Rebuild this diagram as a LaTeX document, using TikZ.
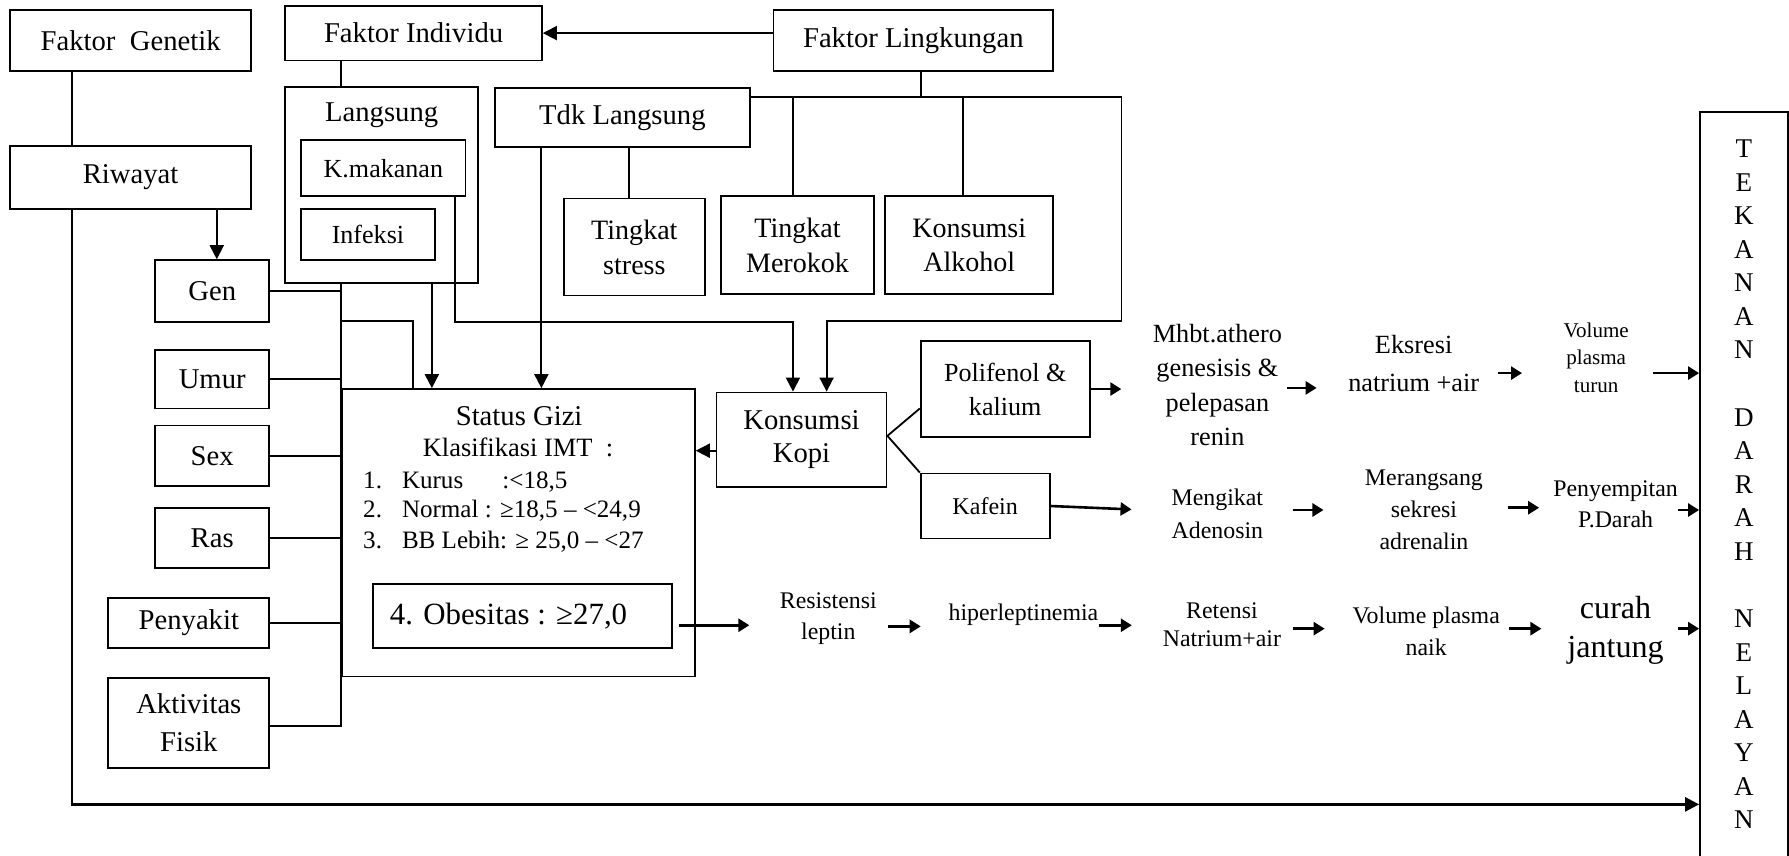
\documentclass[tikz,border=0pt]{standalone}
\usepackage{fontspec}
\setmainfont{Liberation Serif}
\usetikzlibrary{arrows.meta,calc}
\newcommand\fsz[2]{\fontsize{#1pt}{#2pt}\selectfont}
\tikzset{
 box/.style={draw, line width=0.9pt, inner sep=0pt, align=center},
 w/.style={minimum width=#1*0.02cm},
 h/.style={minimum height=#1*0.02cm},
 txt/.style={inner sep=0pt, align=center},
 ln/.style={line width=0.9pt},
 arr/.style={line width=0.9pt, -{Triangle[length=7pt,width=7pt]}},
 chain/.style={line width=1.3pt, -{Triangle[length=5.5pt,width=6.5pt]}},
}
\begin{document}
\begin{tikzpicture}[x=0.02cm,y=-0.02cm]
\useasboundingbox (0,0) rectangle (1568,750);
% top boxes
\node[box,w=211,h=53,font=\fsz{14.3}{17.4}] (fg) at (114.5,35.5) {Faktor~ Genetik};
\node[box,w=225,h=48,font=\fsz{14.3}{17.4}] (fi) at (362.5,29) {Faktor Individu};
\node[box,w=245,h=53,font=\fsz{14.3}{17.4}] (fl) at (800.5,35.5) {Faktor Lingkungan};
\node[box,w=211,h=55,font=\fsz{14.3}{17.4}] (riw) at (114.5,155.5) {Riwayat};
\node[box,w=169,h=172] (lang) at (334.5,162) {};
\node[txt,font=\fsz{14.3}{17.4}] (langt) at (334.5,101) {Langsung};
\node[box,w=144,h=49,font=\fsz{13}{16}] (kmak) at (336,147.5) {K.makanan};
\node[box,w=117,h=45,font=\fsz{13}{16}] (inf) at (322.5,205.5) {Infeksi};
\node[box,w=223,h=52,font=\fsz{14.3}{17.4}] (tdk) at (545.5,103) {Tdk Langsung};
\node[box,w=124,h=85,font=\fsz{14}{17.4}] (stress) at (556,216.5) {Tingkat\\stress};
\node[box,w=134,h=86,font=\fsz{14}{17.4}] (merokok) at (699,215) {Tingkat\\Merokok};
\node[box,w=147,h=86,font=\fsz{14}{17.4}] (alkohol) at (849.5,215) {Konsumsi\\Alkohol};
% left column
\node[box,w=100,h=54,font=\fsz{14.3}{17.4}] (gen) at (186,255) {Gen};
\node[box,w=100,h=51,font=\fsz{14.3}{17.4}] (umur) at (186,332.5) {Umur};
\node[box,w=100,h=53,font=\fsz{14.3}{17.4}] (sex) at (186,399.5) {Sex};
\node[box,w=100,h=53,font=\fsz{14.3}{17.4}] (ras) at (186,471.5) {Ras};
\node[box,w=141,h=44,font=\fsz{14.3}{17.4}] (peny) at (165.5,546) {Penyakit};
\node[box,w=141,h=79,font=\fsz{14.3}{19}] (akt) at (165.5,633.5) {Aktivitas\\Fisik};
% status gizi
\node[box,w=309,h=252] (sg) at (454.5,467) {};
\node[txt,font=\fsz{14.3}{17.4},anchor=base] (sgt) at (455,372.5) {Status Gizi};
\node[txt,font=\fsz{13.2}{16},anchor=base] (sgk) at (454,400) {Klasifikasi IMT~ :};
\node[txt,font=\fsz{12.5}{15},anchor=base west] (n1) at (318,428) {1.};
\node[txt,font=\fsz{12.5}{15},anchor=base west] (l1) at (352,428) {Kurus};
\node[txt,font=\fsz{12.5}{15},anchor=base west] (v1) at (440,428) {:<18,5};
\node[txt,font=\fsz{12.5}{15},anchor=base west] (n2) at (318,453.7) {2.};
\node[txt,font=\fsz{12.5}{15},anchor=base west] (l2) at (352,453.7) {Normal : ≥18,5 – <24,9};
\node[txt,font=\fsz{12.5}{15},anchor=base west] (n3) at (318,480.6) {3.};
\node[txt,font=\fsz{12.5}{15},anchor=base west] (l3) at (352,480.6) {BB Lebih: ≥ 25,0 – <27};
\node[box,w=262,h=56,font=\fsz{15.4}{18}] (obes) at (458,540) {4. Obesitas : ≥27,0\hspace*{14pt}};
% coffee
\node[box,w=149,h=83,font=\fsz{14.3}{16.5}] (kopi) at (702.5,385.5) {Konsumsi\\Kopi};
\node[box,w=148,h=84,font=\fsz{13}{17}] (poli) at (881,341) {Polifenol \&\\kalium};
\node[box,w=113,h=57,font=\fsz{12}{15}] (kaf) at (863.5,443.5) {Kafein};
% target
\node[box,w=77,h=653,font=\fsz{13.5}{16.75}] (tek) at (1528.5,424.5)
 {T\\E\\K\\A\\N\\A\\N\\[16.75pt]D\\A\\R\\A\\H\\[16.75pt]N\\E\\L\\A\\Y\\A\\N};
% right texts
\node[txt,font=\fsz{13.1}{17.2}] (mhbt) at (1067,337.5) {Mhbt.athero\\genesisis \&\\pelepasan\\renin};
\node[txt,font=\fsz{13.1}{18.7}] (eks) at (1239,318.5) {Eksresi\\natrium +air};
\node[txt,font=\fsz{10.5}{13.9}] (vpt) at (1399,313.5) {Volume\\plasma\\turun};
\node[txt,font=\fsz{11.9}{16.4}] (meng) at (1067,450.5) {Mengikat\\Adenosin};
\node[txt,font=\fsz{11.9}{15.9}] (mer) at (1248,447) {Merangsang\\sekresi\\adrenalin};
\node[txt,font=\fsz{11.9}{15.9}] (peny2) at (1416,442) {Penyempitan\\P.Darah};
\node[txt,font=\fsz{11.9}{15.3}] (res) at (726,542.5) {Resistensi\\leptin};
\node[txt,font=\fsz{11.9}{15.3}] (hip) at (897,539) {hiperleptinemia};
\node[txt,font=\fsz{11.9}{14.2}] (ret) at (1071,547.5) {Retensi\\Natrium+air};
\node[txt,font=\fsz{11.9}{16}] (vpn) at (1250,553) {Volume plasma\\naik};
\node[txt,font=\fsz{16}{19.8}] (cur) at (1416,552.5) {curah\\jantung};
% connectors left
\coordinate (cx) at (63,705);
\draw[ln] (fg.south -| cx) -- (riw.north -| cx);
\draw[arr,line width=1.3pt] (riw.south -| cx) -- (cx) -- (cx -| tek.west);
\coordinate (rg) at ($(gen.north)+(4,0)$);
\draw[arr] (riw.south -| rg) -- (rg);
\draw[arr] (fl.west |- fi.east) -- (fi.east);
\draw[ln] (fi.south -| sg.west) -- (lang.north -| sg.west);
\coordinate (ak) at ($(akt.east)+(0,2.5)$);
\draw[ln] (lang.south -| sg.west) -- (ak -| sg.west) -- (ak);
\foreach \n in {gen,umur,sex,ras,peny} \draw[ln] (\n.east) -- (\n.east -| sg.west);
\coordinate (sj) at (362,281);
\draw[ln] (sj -| sg.west) -- (sj) -- (sj |- sg.north);
\coordinate (la) at ($(lang.south)+(44,0)$);
\draw[arr] (la) -- (la |- sg.north);
\coordinate (ta) at ($(tdk.south)+(-71,0)$);
\draw[arr] (ta) -- (ta |- sg.north);
\coordinate (ts) at ($(stress.north)+(-5,0)$);
\draw[ln] (ts |- tdk.south) -- (ts);
% K.makanan to kopi
\coordinate (hk) at (0,282);
\coordinate (kj) at ($(kmak.south)+(63,0)$);
\coordinate (kk) at ($(kopi.north)+(-7.5,0)$);
\draw[arr] (kj) -- (kj |- hk) -- (kk |- hk) -- (kk);
% lingkungan branch
\coordinate (lh) at (807,84.7);
\draw[ln] (fl.south -| lh) -- (lh);
\coordinate (rt) at (983,84.7);
\coordinate (rb) at (983,281);
\coordinate (kb) at ($(kopi.north)+(22,0)$);
\draw[arr] (tdk.east |- rt) -- (rt) -- (rb) -- (kb |- rb) -- (kb);
\coordinate (mk) at ($(merokok.north)+(-4,0)$);
\draw[ln] (mk |- rt) -- (mk);
\coordinate (ak2) at ($(alkohol.north)+(-5.5,0)$);
\draw[ln] (ak2 |- rt) -- (ak2);
% kopi
\coordinate (ka) at ($(kopi.west)+(0,9.5)$);
\draw[arr] (ka) -- (ka -| sg.east);
\coordinate (kp) at ($(kopi.east)+(0,-3.5)$);
\draw[ln] ($(poli.west)+(0,17)$) -- (kp) -- (kaf.north west);
% chains
\draw[chain] (poli.east) -- ++(27,0);
\draw[chain] ($(mhbt.center)+(61,2.5)$) -- ++(26,0);
\draw[chain] ($(eks.center)+(74,8.5)$) -- ++(21,0);
\coordinate (c1) at ($(vpt.center)+(50,13.5)$);
\draw[chain] (c1) -- (c1 -| tek.west);
\draw[chain] (kaf.east) -- ++(71,3);
\draw[chain] ($(meng.center)+(66,-3.5)$) -- ++(27,0);
\draw[chain] ($(mer.center)+(74,-2)$) -- ++(27,0);
\coordinate (c2) at ($(peny2.center)+(55,5)$);
\draw[chain] (c2) -- (c2 -| tek.west);
\draw[chain] ($(obes.east)+(5,8)$) -- ++(62,0);
\draw[chain] ($(res.center)+(52,6.5)$) -- ++(29,0);
\draw[chain] ($(hip.center)+(66,9)$) -- ++(29,0);
\draw[chain] ($(ret.center)+(62,3.5)$) -- ++(28,0);
\draw[chain] ($(vpn.center)+(73,-2)$) -- ++(28,0);
\coordinate (c3) at ($(cur.center)+(55,-1.5)$);
\draw[chain] (c3) -- (c3 -| tek.west);
\end{tikzpicture}
\end{document}
